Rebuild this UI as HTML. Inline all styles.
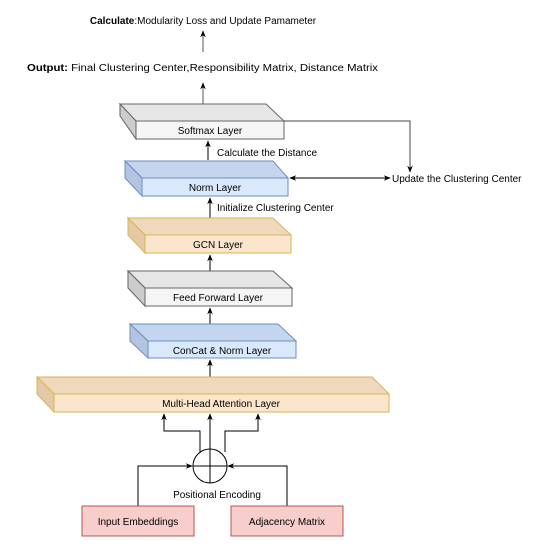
<!DOCTYPE html>
<html><head><style>body{margin:0;background:#fff}svg{display:block}text{font-family:"Liberation Sans",sans-serif;font-size:10px;fill:#000}</style></head>
<body>
<svg width="539" height="550" viewBox="0 0 539 550">
<defs><marker id="a" viewBox="0 0 10 10" refX="9" refY="5" markerWidth="7" markerHeight="7" orient="auto-start-reverse"><path d="M0,1 L10,5 L0,9 L3,5 Z" fill="#000"/></marker></defs>
<text x="203" y="24" text-anchor="middle" font-size="10.6"><tspan font-weight="bold">Calculate</tspan>:Modularity Loss and Update Pamameter</text>
<line x1="203" y1="52" x2="203" y2="31" stroke="#555" marker-end="url(#a)"/>
<text x="27" y="71" font-size="11.2" textLength="351" lengthAdjust="spacingAndGlyphs"><tspan font-weight="bold">Output:</tspan> Final Clustering Center,Responsibility Matrix, Distance Matrix</text>
<line x1="203" y1="104" x2="203" y2="83" stroke="#555" marker-end="url(#a)"/>
<g stroke="#666">
<polygon points="120,104 266,104 284,121 136,121" fill="#e6e6e6"/>
<polygon points="120,104 136,121 136,139 120,116" fill="#cccccc"/>
<rect x="136" y="121" width="148" height="18" fill="#f5f5f5"/>
</g>
<text x="210" y="134" text-anchor="middle" fill="#333">Softmax Layer</text>
<polyline points="284,121 410,121 410,172" fill="none" stroke="#444" marker-end="url(#a)"/>
<line x1="208" y1="160" x2="208" y2="141" stroke="#000" marker-end="url(#a)"/>
<text x="217" y="156">Calculate the Distance</text>
<g stroke="#6c8ebf">
<polygon points="125,161 273,161 288,178 142,178" fill="#c5d5ee"/>
<polygon points="125,161 142,178 142,196 125,178" fill="#b3c4e0"/>
<rect x="142" y="178" width="146" height="18" fill="#dae8fc"/>
</g>
<text x="215" y="191" text-anchor="middle" fill="#222">Norm Layer</text>
<line x1="290" y1="178" x2="390" y2="178" stroke="#000" marker-start="url(#a)" marker-end="url(#a)"/>
<text x="392" y="182" font-size="10.5">Update the Clustering Center</text>
<line x1="210" y1="218" x2="210" y2="198" stroke="#000" marker-end="url(#a)"/>
<text x="217" y="211">Initialize Clustering Center</text>
<g stroke="#d6b656">
<polygon points="128,218 273,218 291,235 145,235" fill="#f0d8bd"/>
<polygon points="128,218 145,235 145,253 128,235" fill="#e5c9a7"/>
<rect x="145" y="235" width="146" height="18" fill="#fce5cd"/>
</g>
<text x="218" y="248" text-anchor="middle" fill="#222">GCN Layer</text>
<line x1="210" y1="271" x2="210" y2="255" stroke="#000" marker-end="url(#a)"/>
<g stroke="#666">
<polygon points="128,271 273,271 292,288 145,288" fill="#e6e6e6"/>
<polygon points="128,271 145,288 145,306 128,288" fill="#cccccc"/>
<rect x="145" y="288" width="147" height="18" fill="#f5f5f5"/>
</g>
<text x="218" y="301" text-anchor="middle" fill="#333">Feed Forward Layer</text>
<line x1="210" y1="324" x2="210" y2="308" stroke="#000" marker-end="url(#a)"/>
<g stroke="#6c8ebf">
<polygon points="130,324 278,324 296,341 148,341" fill="#c5d5ee"/>
<polygon points="130,324 148,341 148,358 130,341" fill="#b3c4e0"/>
<rect x="148" y="341" width="148" height="17" fill="#dae8fc"/>
</g>
<text x="222" y="354" text-anchor="middle" fill="#222">ConCat &amp; Norm Layer</text>
<line x1="210" y1="377" x2="210" y2="360" stroke="#000" marker-end="url(#a)"/>
<g stroke="#d6b656">
<polygon points="37,377 372,377 389,394 54,394" fill="#f0d8bd"/>
<polygon points="37,377 54,394 54,412 37,394" fill="#e5c9a7"/>
<rect x="54" y="394" width="335" height="18" fill="#fce5cd"/>
</g>
<text x="221" y="407" text-anchor="middle" fill="#222">Multi-Head Attention Layer</text>
<circle cx="210" cy="466" r="17" fill="#fff" stroke="#000"/>
<line x1="210" y1="483" x2="210" y2="414" stroke="#000" marker-end="url(#a)"/>
<line x1="193" y1="466" x2="227" y2="466" stroke="#000"/>
<polyline points="200,452 200,431 164,431 164,414" fill="none" stroke="#000" marker-end="url(#a)"/>
<polyline points="225,452 225,431 258,431 258,414" fill="none" stroke="#000" marker-end="url(#a)"/>
<polyline points="138,506 138,466 192,466" fill="none" stroke="#000" marker-end="url(#a)"/>
<polyline points="287,506 287,466 228,466" fill="none" stroke="#000" marker-end="url(#a)"/>
<text x="217" y="498" text-anchor="middle">Positional Encoding</text>
<rect x="82" y="506" width="112" height="30" fill="#f8cecc" stroke="#b85450"/>
<text x="138" y="525" text-anchor="middle" font-size="12">Input Embeddings</text>
<rect x="231" y="506" width="112" height="30" fill="#f8cecc" stroke="#b85450"/>
<text x="287" y="525" text-anchor="middle" font-size="12">Adjacency Matrix</text>
</svg>
</body></html>
